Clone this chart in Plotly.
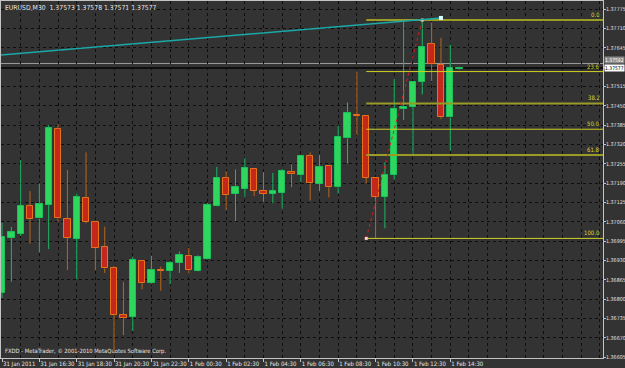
import plotly.graph_objects as go

# ---------------- data ----------------
header_text = "EURUSD,M30  1.37573 1.37578 1.37571 1.37577"
footer_text = "FXDD - MetaTrader, \u00a9 2001-2010 MetaQuotes Software Corp."

bar_index = list(range(50))
opens = [1.36820, 1.37007, 1.37019, 1.37114, 1.37071, 1.37117, 1.37372, 1.37068, 1.37003, 1.37139,
         1.37059, 1.36974, 1.36904, 1.36745, 1.36740, 1.36928, 1.36853, 1.36898, 1.36895, 1.36923,
         1.36945, 1.36895, 1.36935, 1.37114, 1.37207, 1.37154, 1.37171, 1.37237, 1.37163, 1.37154,
         1.37157, 1.37228, 1.37218, 1.37281, 1.37187, 1.37248, 1.37176, 1.37340, 1.37419, 1.37415,
         1.37206, 1.37144, 1.37218, 1.37438, 1.37447, 1.37531, 1.37657, 1.37587, 1.37411, 1.37573]
highs = [1.37057, 1.37043, 1.37267, 1.37163, 1.37189, 1.37385, 1.37388, 1.37234, 1.37155, 1.37293,
         1.37061, 1.37043, 1.36912, 1.36858, 1.36941, 1.36930, 1.36946, 1.36909, 1.36929, 1.36960,
         1.36972, 1.36947, 1.37124, 1.37244, 1.37230, 1.37236, 1.37274, 1.37239, 1.37227, 1.37224,
         1.37237, 1.37253, 1.37283, 1.37293, 1.37284, 1.37250, 1.37383, 1.37461, 1.37564, 1.37416,
         1.37206, 1.37260, 1.37540, 1.37738, 1.37533, 1.37738, 1.37729, 1.37678, 1.37656, 1.37578]
lows = [1.36804, 1.36858, 1.37012, 1.36987, 1.36957, 1.36968, 1.37060, 1.36898, 1.36866, 1.37055,
        1.36898, 1.36888, 1.36629, 1.36679, 1.36693, 1.36833, 1.36850, 1.36828, 1.36850, 1.36888,
        1.36886, 1.36893, 1.36933, 1.37112, 1.37099, 1.37062, 1.37144, 1.37146, 1.37127, 1.37122,
        1.37104, 1.37176, 1.37194, 1.37131, 1.37163, 1.37142, 1.37155, 1.37256, 1.37351, 1.37189,
        1.37004, 1.37038, 1.37203, 1.37402, 1.37284, 1.37488, 1.37533, 1.37405, 1.37299, 1.37571]
closes = [1.37009, 1.37024, 1.37114, 1.37068, 1.37118, 1.37374, 1.37071, 1.37006, 1.37143, 1.37060,
          1.36972, 1.36903, 1.36746, 1.36738, 1.36930, 1.36853, 1.36897, 1.36897, 1.36921, 1.36948,
          1.36897, 1.36941, 1.37116, 1.37208, 1.37151, 1.37176, 1.37239, 1.37164, 1.37154, 1.37163,
          1.37230, 1.37219, 1.37281, 1.37189, 1.37245, 1.37176, 1.37346, 1.37424, 1.37418, 1.37208,
          1.37144, 1.37218, 1.37438, 1.37446, 1.37531, 1.37646, 1.37589, 1.37411, 1.37576, 1.37577]

time_tick_bars = [0, 4, 8, 12, 16, 20, 24, 28, 32, 36, 40, 44, 48]
time_tick_labels = ["31 Jan 2011", "31 Jan 16:30", "31 Jan 18:30", "31 Jan 20:30", "31 Jan 22:30",
                    "1 Feb 00:30", "1 Feb 02:30", "1 Feb 04:30", "1 Feb 06:30", "1 Feb 08:30",
                    "1 Feb 10:30", "1 Feb 12:30", "1 Feb 14:30"]

price_ticks = [1.36605, 1.36670, 1.36735, 1.36800, 1.36865, 1.36930, 1.36995, 1.37060, 1.37125,
               1.37190, 1.37255, 1.37320, 1.37385, 1.37450, 1.37515, 1.37580, 1.37645, 1.37710, 1.37775]

fib_levels = [0.0, 23.6, 38.2, 50.0, 61.8, 100.0]
fib_anchor_bars = [39, 45]
fib_low = 1.37004
fib_high = 1.37738

trend_bars = [-1, 47]
trend_prices = [1.37618, 1.37745]

bid_price = 1.37577
ask_price = 1.37592

# ---------------- style ----------------
BG = "#333333"
GRID = "#0e0e0e"
FRAME = "#c4c4c4"
TXT = "#e4e4e4"
FONT = "Liberation Sans Narrow, DejaVu Sans Condensed, Liberation Sans, Arial"
BULL_FILL, BULL_LINE, BULL_WICK = "#2fd65e", "#19c25a", "#1cb866"
BEAR_FILL, BEAR_LINE, BEAR_WICK = "#c3281a", "#e8711c", "#b8671f"
X_RANGE = [-0.107, 64.35]
Y_RANGE = [1.36602, 1.37802]
MIN_BODY = 0.00003

fig = go.Figure()

def add_group(is_bull):
    xs, base, h = [], [], []
    wx, wy = [], []
    for i, o, hi, lo, c in zip(bar_index, opens, highs, lows, closes):
        if (c > o) != is_bull:
            continue
        top, bot = max(o, c), min(o, c)
        xs.append(i)
        hgt = max(top - bot, MIN_BODY)
        base.append(bot if top - bot >= MIN_BODY else (top + bot) / 2 - MIN_BODY / 2)
        h.append(hgt)
        if hi > top:
            wx += [i, i, None]; wy += [top, hi, None]
        if lo < bot:
            wx += [i, i, None]; wy += [lo, bot, None]
    fig.add_trace(go.Scatter(x=wx, y=wy, mode="lines", hoverinfo="skip",
                             line=dict(color=BULL_WICK if is_bull else BEAR_WICK, width=1)))
    fig.add_trace(go.Bar(x=xs, y=h, base=base, width=0.68,
                         marker=dict(color=BULL_FILL if is_bull else BEAR_FILL,
                                     line=dict(color=BULL_LINE if is_bull else BEAR_LINE, width=1))))

add_group(True)
add_group(False)

# Fibonacci levels
rng = fib_high - fib_low
for lvl in fib_levels:
    p = fib_high - rng * lvl / 100.0
    olive = lvl in (0.0, 38.2, 61.8)
    fig.add_trace(go.Scatter(x=[fib_anchor_bars[0], X_RANGE[1]], y=[p, p], mode="lines",
                             hoverinfo="skip",
                             line=dict(color="#9a9a26" if olive else "#cfcf24", width=2 if olive else 1)))
    fig.add_annotation(x=1, xref="paper", y=p, yref="y", text=f"{lvl:.1f}", showarrow=False,
                       xanchor="right", yanchor="bottom", xshift=-1, yshift=0,
                       font=dict(family=FONT, size=6, color="#d8d830"))

# fib base line (dotted red) and anchors
fig.add_trace(go.Scatter(x=fib_anchor_bars, y=[fib_low, fib_high], mode="lines+markers",
                         hoverinfo="skip",
                         line=dict(color="#d02222", width=1, dash="dot"),
                         marker=dict(symbol="square", size=3, color="#ffd0d0")))

# cyan trend line
fig.add_trace(go.Scatter(x=trend_bars, y=trend_prices, mode="lines", hoverinfo="skip",
                         line=dict(color="#1aa8a8", width=1.5)))
fig.add_trace(go.Scatter(x=[trend_bars[1]], y=[trend_prices[1]], mode="markers", hoverinfo="skip",
                         marker=dict(symbol="square", size=4, color="#d8ffff")))

# ask / bid lines
fig.add_shape(type="line", xref="paper", x0=0, x1=1, y0=ask_price, y1=ask_price,
              line=dict(color="#9c9c9c", width=1), layer="below")
fig.add_shape(type="line", xref="paper", x0=0, x1=1, y0=bid_price, y1=bid_price,
              line=dict(color="#050505", width=1.5), layer="below")

fig.add_annotation(x=1, xref="paper", y=bid_price, yref="y", text=f"{ask_price:.5f}",
                   showarrow=False, xanchor="left", yanchor="bottom", xshift=1, yshift=4,
                   bgcolor="#8a8a8a", borderpad=0,
                   font=dict(family=FONT, size=5, color="#ffffff"))
fig.add_annotation(x=1, xref="paper", y=bid_price, yref="y", text=f"{bid_price:.5f}",
                   showarrow=False, xanchor="left", yanchor="middle", xshift=1,
                   bgcolor="#ffffff", borderpad=0,
                   font=dict(family=FONT, size=5, color="#000000"))

# header / footer
fig.add_annotation(x=0, xref="paper", y=1, yref="paper", text=header_text, showarrow=False,
                   xanchor="left", yanchor="top", xshift=2, yshift=-1,
                   font=dict(family=FONT, size=6.8, color=TXT))
fig.add_annotation(x=0, xref="paper", y=0, yref="paper", text=footer_text, showarrow=False,
                   xanchor="left", yanchor="bottom", xshift=2, yshift=1,
                   font=dict(family=FONT, size=5.8, color=TXT))

# hide the tick label covered by the live price box (as in the terminal)
y_ticktext = ["" if abs(v - bid_price) < 0.0001 else f"{v:.5f}" for v in price_ticks]

fig.update_layout(
    width=625, height=368,
    margin=dict(l=1, r=22, t=1, b=10, autoexpand=False),
    paper_bgcolor=BG, plot_bgcolor=BG,
    showlegend=False, barmode="overlay", bargap=0,
    font=dict(family=FONT, size=6, color=TXT),
    xaxis=dict(range=X_RANGE, tickmode="array", tickvals=time_tick_bars, ticktext=time_tick_labels,
               ticks="outside", ticklen=3, tickcolor=FRAME, ticklabelposition="outside right",
               tickangle=0, automargin=False,
               tickfont=dict(family=FONT, size=6, color=TXT),
               showgrid=True, gridcolor=GRID, griddash="dot", gridwidth=1,
               minor=dict(tickmode="linear", tick0=0, dtick=2, showgrid=True,
                          gridcolor=GRID, griddash="dot", gridwidth=1),
               showline=True, linecolor=FRAME, linewidth=1, mirror=True, zeroline=False,
               fixedrange=True),
    yaxis=dict(range=Y_RANGE, side="right", tickmode="array", tickvals=price_ticks,
               ticktext=y_ticktext, automargin=False,
               ticks="outside", ticklen=2, tickcolor=FRAME, ticklabelstandoff=-1,
               tickfont=dict(family=FONT, size=5.3, color=TXT),
               showgrid=True, gridcolor=GRID, griddash="dot", gridwidth=1,
               showline=True, linecolor=FRAME, linewidth=1, mirror=True, zeroline=False,
               fixedrange=True),
)

fig.write_html("out.html")
